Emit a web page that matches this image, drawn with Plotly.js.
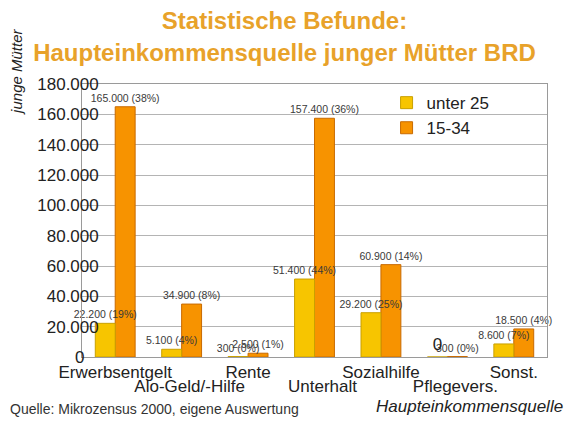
<!DOCTYPE html>
<html>
<head>
<meta charset="utf-8">
<script src="https://cdn.plot.ly/plotly-3.0.1.min.js"></script>
<style>
  html, body { margin: 0; padding: 0; background: #ffffff; }
  #chart { width: 569px; height: 421px; }
</style>
</head>
<body>
<div id="chart"></div>
<script>
// ---- data ----
const categories = ['Erwerbsentgelt', 'Alo-Geld/-Hilfe', 'Rente', 'Unterhalt', 'Sozialhilfe', 'Pflegevers.', 'Sonst.'];
const seriesNames = ['unter 25', '15-34'];
const valuesUnder25 = [22200, 5100, 300, 51400, 29200, 0, 8600];
const pctUnder25 = [19, 4, 0, 44, 25, 0, 7];
const values1534 = [165000, 34900, 2500, 157400, 60900, 300, 18500];
const pct1534 = [38, 8, 1, 36, 14, 0, 4];
const yTickVals = [0, 20000, 40000, 60000, 80000, 100000, 120000, 140000, 160000, 180000];

// ---- helpers ----
const FONT = 'Liberation Sans, Arial, Helvetica, sans-serif';
function fmt(v) { return String(v).replace(/\B(?=(\d{3})+(?!\d))/g, '.'); }
function labels(vals, pcts) {
  return vals.map((v, i) => v === 0 ? '0' : fmt(v) + ' (' + pcts[i] + '%)');
}
function labelSizes(vals) { return vals.map(v => v === 0 ? 17 : 10.5); }
function labelColors(vals) { return vals.map(v => v === 0 ? '#222222' : '#3a3a3a'); }

const yTickText = yTickVals.map(v => v === 0 ? '0\u00a0\u00a0\u00a0' : fmt(v));
const rowOneCats = categories.filter((c, i) => i % 2 === 0);
const rowTwoCats = categories.filter((c, i) => i % 2 === 1);
const Y_RANGE = [0, 180000];
const X_RANGE = [-0.5, categories.length - 0.5];

const BAR_W = 0.3;
const traces = [
  {
    type: 'bar', name: seriesNames[1], x: categories, y: values1534,
    xaxis: 'x', yaxis: 'y',
    width: BAR_W, offset: 0,
    marker: { color: '#F79300', line: { color: '#C86A00', width: 1 } },
    text: labels(values1534, pct1534), textposition: 'outside',
    textfont: { family: FONT, size: labelSizes(values1534), color: labelColors(values1534) },
    cliponaxis: false, constraintext: 'none', legendgroup: 'b', hoverinfo: 'skip'
  },
  {
    type: 'bar', name: seriesNames[0], x: categories, y: valuesUnder25,
    xaxis: 'x2', yaxis: 'y2',
    width: BAR_W, offset: -BAR_W,
    marker: { color: '#F7C500', line: { color: '#C9A000', width: 1 } },
    text: labels(valuesUnder25, pctUnder25), textposition: 'outside',
    textfont: { family: FONT, size: labelSizes(valuesUnder25), color: labelColors(valuesUnder25) },
    cliponaxis: false, constraintext: 'none', legendgroup: 'a', hoverinfo: 'skip'
  }
];

const tickFont = { family: FONT, size: 17, color: '#222222' };

const layout = {
  width: 569, height: 421,
  margin: { l: 82, r: 22, t: 84, b: 64, pad: 0 },
  paper_bgcolor: '#ffffff', plot_bgcolor: '#ffffff',
  font: { family: FONT, color: '#222222' },
  barmode: 'overlay',
  title: {
    text: 'Statistische Befunde:<br>Haupteinkommensquelle junger Mütter BRD',
    font: { family: FONT, size: 24, color: '#E8A22A', weight: 'bold' },
    x: 0.5, xanchor: 'center', xref: 'container',
    y: 0.93, yanchor: 'top', yref: 'container'
  },
  xaxis: {
    type: 'category', categoryarray: categories, range: X_RANGE,
    tickmode: 'array', tickvals: rowOneCats, ticktext: rowOneCats,
    tickfont: tickFont, tickangle: 0,
    showgrid: false, showline: true, linecolor: '#9a9a9a', linewidth: 1, mirror: true,
    ticks: '', zeroline: false
  },
  xaxis2: {
    type: 'category', categoryarray: categories, range: X_RANGE,
    overlaying: 'x', anchor: 'y2', side: 'bottom',
    tickmode: 'array', tickvals: rowTwoCats, ticktext: rowTwoCats,
    tickfont: tickFont, tickangle: 0, ticklabelstandoff: 17, ticklabelshift: 8,
    showgrid: false, showline: false, ticks: '', zeroline: false
  },
  yaxis: {
    range: Y_RANGE, tickmode: 'array', tickvals: yTickVals,
    showticklabels: false,
    showgrid: true, gridcolor: '#b4b4b4', gridwidth: 1,
    showline: true, linecolor: '#9a9a9a', linewidth: 1, mirror: true,
    ticks: '', zeroline: false
  },
  yaxis2: {
    range: Y_RANGE, overlaying: 'y', anchor: 'free', position: 0.036, side: 'left',
    tickmode: 'array', tickvals: yTickVals, ticktext: yTickText,
    tickfont: tickFont,
    showgrid: false, showline: false, ticks: '', zeroline: false
  },
  legend: {
    x: 0.655, xanchor: 'left', y: 0.996, yanchor: 'top',
    bgcolor: 'rgba(0,0,0,0)', borderwidth: 0,
    font: { family: FONT, size: 17, color: '#222222' },
    tracegroupgap: 8, itemwidth: 30, traceorder: 'reversed'
  },
  showlegend: true,
  annotations: [
    {
      text: '<i>junge Mütter</i>', textangle: -90, showarrow: false,
      xref: 'paper', yref: 'paper', x: -0.14, y: 1.044, xanchor: 'center', yanchor: 'middle',
      font: { family: FONT, size: 15, color: '#222222' }
    },
    {
      text: '<i>Haupteinkommensquelle</i>', showarrow: false,
      xref: 'paper', yref: 'paper', x: 1.039, y: -0.183, xanchor: 'right', yanchor: 'middle',
      font: { family: FONT, size: 17, color: '#222222' }
    },
    {
      text: 'Quelle: Mikrozensus 2000, eigene Auswertung', showarrow: false,
      xref: 'paper', yref: 'paper', x: -0.159, y: -0.19, xanchor: 'left', yanchor: 'middle',
      font: { family: FONT, size: 14, color: '#333333' }
    }
  ]
};

Plotly.newPlot('chart', traces, layout, { displayModeBar: false, staticPlot: true });
</script>
</body>
</html>
